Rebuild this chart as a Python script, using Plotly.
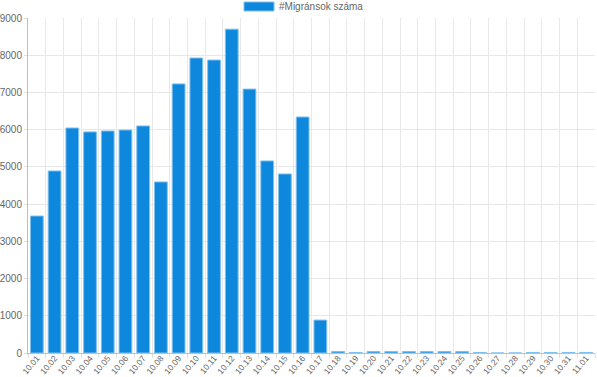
import plotly.graph_objects as go

dates = ["10.01","10.02","10.03","10.04","10.05","10.06","10.07","10.08","10.09","10.10",
         "10.11","10.12","10.13","10.14","10.15","10.16","10.17","10.18","10.19","10.20",
         "10.21","10.22","10.23","10.24","10.25","10.26","10.27","10.28","10.29","10.30",
         "10.31","11.01"]
migrants = [3680, 4890, 6045, 5940, 5965, 5990, 6100, 4595, 7230, 7925,
            7870, 8700, 7090, 5160, 4810, 6340, 885, 40, 15, 40,
            40, 40, 40, 40, 40, 15, 0, 0, 15, 15,
            15, 15]
series_name = "#Migránsok száma"
y_ticks = [0, 1000, 2000, 3000, 4000, 5000, 6000, 7000, 8000, 9000]

font = "Arial, Liberation Sans, sans-serif"
fig = go.Figure()
fig.add_trace(go.Bar(
    x=dates, y=migrants, name=series_name,
    marker=dict(color="#0e88dd", line=dict(color="#7fc0ee", width=1)),
    showlegend=False,
))
# legend drawn like Chart.js: wide box + label
fig.add_shape(type="rect", xref="paper", yref="paper",
              x0=(244-28)/567, x1=(274-28)/567, y0=(353-11)/335, y1=(353-2)/335,
              fillcolor="#0e88dd", line=dict(color="#7fc0ee", width=1))
fig.add_annotation(text=series_name, xref="paper", yref="paper",
                   x=(277-28)/567, y=(353-6.5)/335, xanchor="left", yanchor="middle",
                   showarrow=False, font=dict(family=font, size=10, color="#666666"))

fig.update_layout(
    width=597, height=377,
    margin=dict(l=28, r=2, t=18, b=24),
    paper_bgcolor="white", plot_bgcolor="white",
    bargap=0.28,
    font=dict(family=font, size=10, color="#666666"),
    xaxis=dict(type="category", tickson="boundaries", showgrid=True,
               gridcolor="#e8e8e8", gridwidth=1, tickangle=-50,
               ticks="outside", ticklen=4, tickcolor="#e0e0e0",
               ticklabelstandoff=-4,
               showline=True, linecolor="#bfbfbf", linewidth=1,
               tickfont=dict(size=8.5, color="#666666"), automargin=False),
    yaxis=dict(range=[0, 9000], tickvals=y_ticks, showgrid=True,
               gridcolor="#e8e8e8", gridwidth=1, zeroline=False,
               ticks="outside", ticklen=3, tickcolor="#e0e0e0",
               showline=True, linecolor="#bfbfbf", linewidth=1,
               tickfont=dict(size=10, color="#666666"), automargin=False),
)
fig.write_html("out.html", config={"displayModeBar": False},
               post_script="document.body.style.margin='0';")
